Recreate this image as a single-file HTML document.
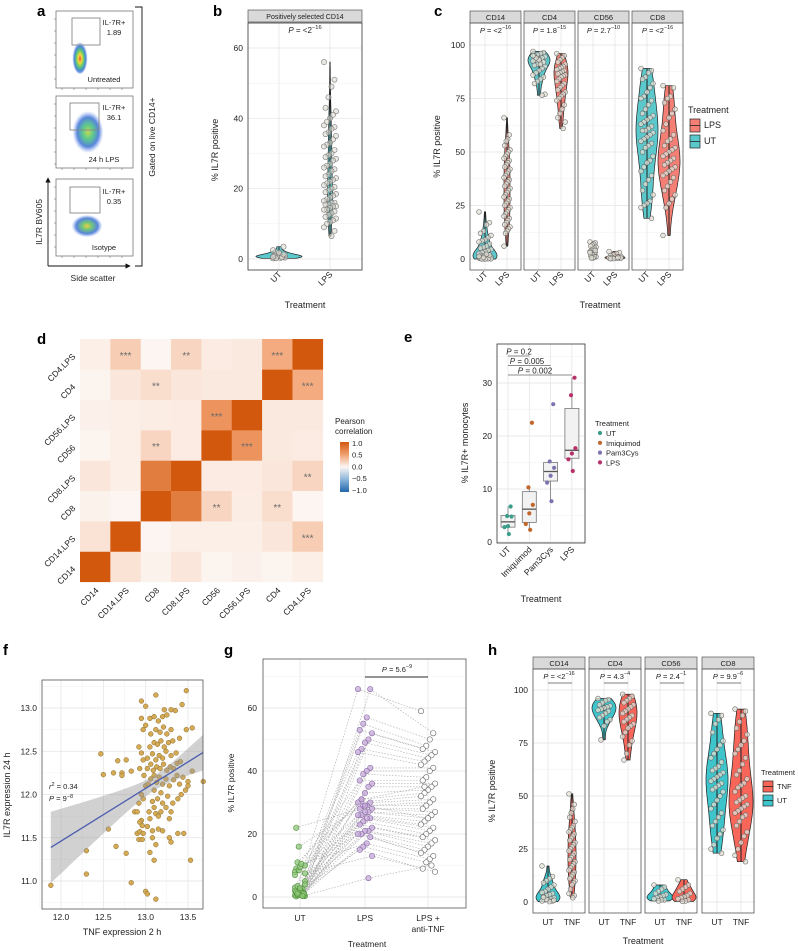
<!DOCTYPE html>
<html><head><meta charset="utf-8">
<style>
html,body{margin:0;padding:0;background:#fff;}
svg{display:block;font-family:"Liberation Sans",Arial,sans-serif;}
</style></head>
<body>
<svg id="fig" width="798" height="951" viewBox="0 0 798 951" xmlns="http://www.w3.org/2000/svg">
<defs>
<radialGradient id="flowA" cx="50%" cy="55%" r="50%">
<stop offset="0" stop-color="#e8321c"/><stop offset="0.25" stop-color="#f5d21a"/><stop offset="0.5" stop-color="#3fbf5a"/><stop offset="0.75" stop-color="#2a6fd6"/><stop offset="1" stop-color="#5a7fe0" stop-opacity="0"/>
</radialGradient>
<radialGradient id="flowB" cx="50%" cy="50%" r="50%">
<stop offset="0" stop-color="#b8d23a"/><stop offset="0.35" stop-color="#3fbf7a"/><stop offset="0.7" stop-color="#3a6fd6"/><stop offset="1" stop-color="#6a8fe8" stop-opacity="0"/>
</radialGradient>
<radialGradient id="flowC" cx="50%" cy="50%" r="50%">
<stop offset="0" stop-color="#f0c020"/><stop offset="0.3" stop-color="#5cc060"/><stop offset="0.7" stop-color="#3a6fd6"/><stop offset="1" stop-color="#6a8fe8" stop-opacity="0"/>
</radialGradient>
<linearGradient id="corrGrad" x1="0" y1="0" x2="0" y2="1">
<stop offset="0" stop-color="#d2580e"/><stop offset="0.25" stop-color="#f0a070"/><stop offset="0.5" stop-color="#fbf6f3"/><stop offset="0.75" stop-color="#8cb6da"/><stop offset="1" stop-color="#2166ac"/>
</linearGradient>
<marker id="arr" markerWidth="6" markerHeight="6" refX="3" refY="3" orient="auto"><path d="M0,0 L6,3 L0,6 z" fill="#111"/></marker>
</defs>
<rect width="798" height="951" fill="#fff"/>
</svg>
<script>
// ---------- DATA ----------
// panel b
const bCats = ["UT","LPS"];
const bUT = [0.2,0.5,0.8,1,1.2,0.4,0.6,1.5,2,2.5,3.5,0.3,0.7,0.9,1.1,0.5,1.8,0.2,0.6,1.3];
const bLPS = [56,51,49,46,43,42,41,40,39,38,37.5,37,36,35.5,35,34,33,32.5,32,31,30,29.5,29,28.5,28,27,26.5,26,25.5,25,24,23.5,23,22.5,22,21.5,21,20.5,20,19.5,19,18.5,18,17.5,17,16.5,16,16,15.5,15.5,15,15,14.5,14,14,13.5,13,12.5,12,11.5,11,10.5,10,9,8,6.5];
const bTicks = [0,20,40,60];
// panel c
const cFacets = ["CD14","CD4","CD56","CD8"];
const cPbase = ["P = <2","P = 1.8","P = 2.7","P = <2"];
const cPexp = ["−16","−15","−10","−16"];
const cCD14UT = [22,17,16,13,12,11,10,9,8.5,8,7,6,5.5,5,4.5,4,3.5,3,2.5,2,2,1.5,1.5,1,1,1,0.8,0.5,0.5,0.3,0.2,0.2,0.1,0.1,0,0,1.2,1.8,2.2,0.7];
const cCD14LPS = [66,58,56,55,53,51,50,49,48,47,46,45,44,43,42,41,40,39,38,37,36,35,34,33,32,31,30,29,28,27,26,25,24,23,22,21,20,19,18,17,16,15,14,13,12,6];
const cCD4UT = [97,96.5,96,95.5,95,94.5,94,93.5,93,92.5,92,91.5,91,90.5,90,89,88,87,86,85,84,83,82,77,76.5,93,94,95,92,91];
const cCD4LPS = [96,95,94,93,92,91,90,89.5,89,88.5,88,87.5,87,86.5,86,85.5,85,84,83,82,81,80,79,78,77,76,75,74,72,70,68,66,64,61];
const cCD56UT = [8,7.5,7,6.5,6,5.5,5,4.5,4,3.5,3,2.5,2,1.5,1,1,0.5,0.5,3,4];
const cCD56LPS = [3.5,3,2.5,2,1.5,1.2,1,0.8,0.6,0.5,0.4,0.3,0.2,0.1,0.5,0.7];
const cCD8UT = [89,88,87,85,84,82,80,78,76,75,74,72,70,68,67,66,65,64,63,62,61,60,60,59,58,57,56,55,54,53,52,50,48,46,45,43,41,39,37,35,32,30,27,26,25,24,19];
const cCD8LPS = [81,80,76,75,73,70,68,66,63,60,58,56,55,53,52,51,50,49,48,47,46,45,44,43,42,41,40,39,38,36,34,32,30,28,26,24,11];
const cTicks = [0,25,50,75,100];
// panel d
const dVars = ["CD14","CD14.LPS","CD8","CD8.LPS","CD56","CD56.LPS","CD4","CD4.LPS"];
const dCorr = [
 [1,0.12,0.03,0.10,0.02,0.04,0.02,0.05],
 [0.12,1,0.01,0.05,0.05,0.05,0.10,0.25],
 [0.03,0.01,1,0.75,0.20,0.06,0.15,0.01],
 [0.10,0.05,0.75,1,0.07,0.07,0.10,0.20],
 [0.02,0.05,0.20,0.07,1,0.60,0.08,0.07],
 [0.04,0.05,0.06,0.07,0.60,1,0.08,0.08],
 [0.02,0.10,0.15,0.10,0.08,0.08,1,0.45],
 [0.05,0.25,0.01,0.20,0.07,0.08,0.45,1]];
const dStars = [
 ["","","","","","","",""],
 ["","","","","","","","***"],
 ["","","","","**","","**",""],
 ["","","","","","","","**"],
 ["","","**","","","***","",""],
 ["","","","","***","","",""],
 ["","","**","","","","","***"],
 ["","***","","**","","","***",""]];
const dLegTicks = ["1.0","0.5","0.0","−0.5","−1.0"];
// panel e
const eCats = ["UT","Imiquimod","Pam3Cys","LPS"];
const eColors = ["#3a9e8a","#c0662a","#7f72b0","#b8306a"];
const ePts = [[6.7,4.9,4.8,3.0,2.8,1.5],[22.5,10.3,7.0,5.4,3.4,2.3],[26,15.2,14,12.5,11.2,7.7],[31,27.7,17.7,16.7,15.6,13.4]];
const eQ1 = [2.8,3.7,11.5,15.8];
const eMed = [3.8,6.2,13.3,17.3];
const eQ3 = [5.0,9.5,15.0,25.2];
const eLo = [1.5,2.3,7.7,13.4];
const eHi = [6.7,10.3,15.2,31];
const eTicks = [0,10,20,30];
const eP = ["0.2","0.005","0.002"];
const ePairEnd = [1,2,3];
// panel f
const fx = [12.92,12.95,12.97,12.93,12.98,13.0,12.95,12.97,12.92,12.95,12.93,12.96,12.9,12.93,12.97,12.92,12.96,13.02,13.05,13.08,13.04,13.1,13.12,13.15,13.18,13.08,13.14,13.2,13.24,13.28,13.3,13.32,13.26,13.18,13.1,13.03,13.06,13.1,13.13,13.16,13.2,13.24,13.28,13.33,13.37,13.4,13.44,13.47,13.02,13.06,13.09,13.13,13.17,13.21,13.25,13.29,13.33,13.37,13.41,13.02,13.08,13.12,13.16,13.2,13.24,13.3,13.36,13.05,13.1,13.14,13.18,13.22,13.27,13.32,13.4,13.06,13.12,13.17,13.21,13.25,13.3,13.48,13.55,13.05,13.1,13.15,13.2,13.25,13.3,13.35,13.22,13.0,12.97,12.95,13.28,13.3,13.2,13.12,13.15,13.08,13.38,13.42,13.38,
 11.88,12.3,12.3,12.47,12.5,12.56,12.62,12.65,12.67,12.72,12.72,12.77,12.77,12.83,12.83,12.87,12.9,13.0,13.02,13.12,13.05,13.1,13.53,13.68,13.55,13.48,13.12,12.95,13.43,13.0,13.5,13.5,13.45];
const fy = [12.55,12.48,12.4,12.3,12.22,12.1,12.0,11.95,11.9,11.7,11.68,11.64,11.55,11.57,11.55,11.48,11.48,11.63,11.72,11.58,11.8,11.85,11.78,11.75,11.8,11.92,11.95,11.9,11.85,11.72,11.8,11.9,11.98,12.02,12.05,12.12,12.18,12.22,12.14,12.2,12.12,12.18,12.1,12.17,12.22,12.12,12.2,12.05,12.3,12.35,12.28,12.32,12.3,12.35,12.28,12.32,12.3,12.36,12.38,12.42,12.47,12.4,12.45,12.42,12.5,12.45,12.48,12.55,12.6,12.58,12.62,12.55,12.6,12.62,12.65,12.7,12.75,12.72,12.78,12.7,12.75,12.75,12.77,12.88,12.9,12.85,12.9,12.92,12.98,12.97,12.98,12.8,12.75,12.88,11.5,11.45,11.58,11.42,11.6,11.5,11.95,12.0,11.55,
 10.95,11.35,11.08,12.47,12.23,11.6,12.25,11.4,12.39,12.25,12.22,12.4,11.32,10.98,12.27,11.8,11.8,10.88,10.85,10.79,11.33,11.24,11.24,12.15,12.27,13.2,13.15,13.08,13.04,13.02,12.1,12.15,11.55];
const fXTicks = [12.0,12.5,13.0,13.5];
const fYTicks = [11.0,11.5,12.0,12.5,13.0];
// panel g
const gCats = ["UT","LPS","LPS + anti-TNF"];
const gUT = [0.5,1,2,0.8,1.5,0.3,2.5,1,0.5,3,1.2,0.6,2,9,10,0.7,1.5,11,8,0.4,1.8,16,22,5,0.9,2.2,3.5,7,1,0.5,8.5,0.2,4,1.3,9.5,0.6,2,1,10.5,0.8,1.6,7.5,0.3,2.8,1.1];
const gLPS = [66,66,57,55,53,52,50,49,47,46,41,40,39,37,36,35,33,31,30,30,29,29,28,28,27,27,26,26,25,25,24,23,22,21,21,20,20,19,17,16,15,13,6,29,31];
const gTNF = [59,52,50,48,47,46,45,44,43,42,41,40,38,37,36,35,34,33,32,31,30,29,28,27,26,25,24,23,22,21,20,19,18,17,16,15,14,13,12,11,9,8,10,25,35];
const gTicks = [0,20,40,60];
// panel h
const hFacets = ["CD14","CD4","CD56","CD8"];
const hPbase = ["P = <2","P = 4.3","P = 2.4","P = 9.9"];
const hPexp = ["−16","−4","−1","−6"];
const hCD14UT = [17,12,11,10,9,8,7,6,5,4.5,4,3.5,3,2.5,2,1.5,1,1,0.5,0.5,0.2,1.2,2.2,0.8];
const hCD14TNF = [51,46,44,42,40,38,36,35,34,33,32,31,30,29,28,27,26,25,24,23,22,21,20,19,18,17,16,15,14,13,12,11,10,9,8,6,4,3,2];
const hCD4UT = [96,95.5,95,94,93,92.5,92,91.5,91,90.5,90,89,88,87,86,85,83,76.5];
const hCD4TNF = [98,97,96,95,94,93,92,91,90,89,88,87,86,85,84,83,82,80,78,76,74,70,67];
const hCD56UT = [8,7,6,5,4,3.5,3,2.5,2,1.5,1,1,0.5];
const hCD56TNF = [10.5,8,7,6,5,4,3,2.5,2,1.5,1,0.5,0.3];
const hCD8UT = [89,88,86,84,80,76,74,72,70,68,66,64,63,62,61,60,59,58,57,56,55,54,53,52,50,48,46,44,42,40,38,36,34,32,30,27,25,23];
const hCD8TNF = [91,90,88,85,82,79,76,74,72,70,68,65,62,60,58,56,55,54,52,50,49,48,47,46,45,44,43,42,41,40,38,36,33,31,28,25,22,19];

// ---------- HELPERS ----------
const NS = "http://www.w3.org/2000/svg";
const svg = document.getElementById('fig');
function mk(tag, attrs, parent){
  const e = document.createElementNS(NS, tag);
  for (const k in attrs) e.setAttribute(k, attrs[k]);
  (parent||svg).appendChild(e);
  return e;
}
function txt(x,y,s,size,parent,extra){
  const a = Object.assign({x:x,y:y,'font-size':size,fill:'#222'}, extra||{});
  const t = mk('text', a, parent); t.textContent = s; return t;
}
function lin(d0,d1,r0,r1){ return v => r0 + (v-d0)/(d1-d0)*(r1-r0); }
function grp(name){
  const g = mk('g', {});
  
  
  return g;
}
function pText(x,y,base,exp,parent,size){
  size = size||8;
  const t = mk('text',{x:x,y:y,'font-size':size,'text-anchor':'middle',fill:'#222'},parent);
  const p = mk('tspan',{'font-style':'italic'},t); p.textContent = base.slice(0,1);
  const r = mk('tspan',{},t); r.textContent = base.slice(1);
  if (exp){ const s = mk('tspan',{dy:-4,'font-size':size*0.72},t); s.textContent = exp; }
  return t;
}
function violinPath(vals, cx, ys, halfW){
  const n = vals.length;
  const mean = vals.reduce((a,b)=>a+b,0)/n;
  const sd = Math.sqrt(vals.reduce((a,b)=>a+(b-mean)*(b-mean),0)/Math.max(n-1,1));
  const h = Math.max(1.06*sd*Math.pow(n,-0.2), 0.3);
  const mn = Math.min(...vals), mx = Math.max(...vals);
  const N = 50, pts = [];
  let maxd = 0;
  for (let i=0;i<=N;i++){
    const y = mn + (mx-mn)*i/N;
    let d = 0; for (const v of vals) d += Math.exp(-0.5*((y-v)/h)**2);
    pts.push([y,d]); if (d>maxd) maxd = d;
  }
  let p = '';
  pts.forEach((q,i)=>{ p += (i?'L':'M') + (cx + q[1]/maxd*halfW).toFixed(1) + ',' + ys(q[0]).toFixed(1); });
  for (let i=pts.length-1;i>=0;i--) p += 'L' + (cx - pts[i][1]/maxd*halfW).toFixed(1) + ',' + ys(pts[i][0]).toFixed(1);
  return p + 'Z';
}
function jit(i, w){ return (((i*7)%9)-4)/4*w; }

// ---------- PANEL A (flow) ----------
(function(){
  const g = grp('panel-a');
  txt(37,16,'a',15,g,{'font-weight':'bold',fill:'#000'});
  const boxes = [
    {y0:11,y1:88,name:'untreated-flow-plot',blob:[80,57,5.5,12,'flowA'],gate:[72,18,28,27],lbl:'1.89',cond:'Untreated'},
    {y0:96,y1:168,name:'lps-flow-plot',blob:[88,132,11,15,'flowB'],gate:[70,103,29,27],lbl:'36.1',cond:'24 h LPS'},
    {y0:179,y1:256,name:'isotype-flow-plot',blob:[87,226,11,8,'flowC'],gate:[70,187,30,26],lbl:'0.35',cond:'Isotype'}];
  boxes.forEach(b=>{
    const bg = mk('g',{},g);
    
    
    mk('rect',{x:56,y:b.y0,width:77,height:b.y1-b.y0,fill:'#fff',stroke:'#777','stroke-width':0.8},bg);
    mk('ellipse',{cx:b.blob[0],cy:b.blob[1],rx:b.blob[2]*1.4,ry:b.blob[3]*1.4,fill:'url(#'+b.blob[4]+')',opacity:0.85},bg);
    for (let k=0;k<6;k++){ mk('line',{x1:56,x2:54,y1:b.y0+8+k*12,y2:b.y0+8+k*12,stroke:'#777','stroke-width':0.6},bg);
      mk('line',{x1:62+k*12,x2:62+k*12,y1:b.y1,y2:b.y1+2,stroke:'#777','stroke-width':0.6},bg); }
    mk('rect',{x:b.gate[0],y:b.gate[1],width:b.gate[2],height:b.gate[3],fill:'none',stroke:'#888','stroke-width':0.9},bg);
    txt(114,b.gate[1]+7,'IL-7R+',7.5,bg,{'text-anchor':'middle'});
    txt(114,b.gate[1]+17,b.lbl,7.5,bg,{'text-anchor':'middle'});
    txt(104,b.y1-6,b.cond,7.5,bg,{'text-anchor':'middle'});
  });
  mk('line',{x1:48,y1:266,x2:48,y2:180,stroke:'#111','stroke-width':0.9,'marker-end':'url(#arr)'},g);
  mk('line',{x1:48,y1:266,x2:128,y2:266,stroke:'#111','stroke-width':0.9,'marker-end':'url(#arr)'},g);
  txt(42,222,'IL7R BV605',8.5,g,{'text-anchor':'middle',transform:'rotate(-90 42 222)'});
  txt(93,281,'Side scatter',8.5,g,{'text-anchor':'middle'});
  mk('path',{d:'M135,7 H142 V266 H135',fill:'none',stroke:'#111','stroke-width':0.9},g);
  txt(155,137,'Gated on live CD14+',8.5,g,{'text-anchor':'middle',transform:'rotate(-90 155 137)'});
})();

// ---------- PANEL B ----------
(function(){
  const g = grp('panel-b');
  txt(213,16,'b',15,g,{'font-weight':'bold',fill:'#000'});
  const L=248,R=362,T=23,B=270;
  const ys = lin(0,60,259,48);
  const xs = {UT:279, LPS:330};
  const strip = mk('rect',{x:L,y:10,width:R-L,height:12,fill:'#d9d9d9',stroke:'#555','stroke-width':0.7},g);
  
  txt((L+R)/2,19,'Positively selected CD14',7,g,{'text-anchor':'middle'});
  for (let v=10; v<=60; v+=20) mk('line',{x1:L,x2:R,y1:ys(v),y2:ys(v),stroke:'#f2f2f2','stroke-width':0.6},g);
  bTicks.forEach(v=>{ mk('line',{x1:L,x2:R,y1:ys(v),y2:ys(v),stroke:'#e3e3e3','stroke-width':0.7},g);
    const t = txt(243,ys(v)+3,String(v),8.5,g,{'text-anchor':'end'});
     });
  bCats.forEach(c=>mk('line',{x1:xs[c],x2:xs[c],y1:T,y2:B,stroke:'#e3e3e3','stroke-width':0.7},g));
  const vals = {UT:bUT, LPS:bLPS}, wid = {UT:23, LPS:2.5};
  bCats.forEach(c=>{
    const v = mk('path',{d:violinPath(vals[c],xs[c],ys,wid[c]),fill:'#5bc8cc',stroke:'#222','stroke-width':0.7},g);
    
    mk('line',{x1:xs[c],x2:xs[c],y1:ys(Math.min(...vals[c])),y2:ys(Math.max(...vals[c])),stroke:'#222','stroke-width':1},g);
    vals[c].forEach((y,i)=>{
      const p = mk('circle',{cx:xs[c]+jit(i,c==='UT'?6:6),cy:ys(y),r:2.6,fill:'#dedbd0','fill-opacity':0.6,stroke:'#777','stroke-width':0.6},g);
      
    });
    txt(xs[c]+3,275,c,8.5,g,{'text-anchor':'end',transform:'rotate(-45 '+(xs[c]+3)+' 275)'});
  });
  mk('rect',{x:L,y:T,width:R-L,height:B-T,fill:'none',stroke:'#333','stroke-width':0.8},g);
  pText(305,33,'P = <2','−16',g,8);
  txt(218,150,'% IL7R positive',9,g,{'text-anchor':'middle',transform:'rotate(-90 218 150)'});
  txt(305,308,'Treatment',9,g,{'text-anchor':'middle'});
})();

// ---------- facet violin helper (panels c & h) ----------
function facetPanel(o){
  const g = grp(o.name);
  txt(o.letterX,o.letterY,o.letter,15,g,{'font-weight':'bold',fill:'#000'});
  o.facets.forEach((f,fi)=>{
    const x0 = o.fx[fi], x1 = x0 + o.fw;
    const fg = mk('g',{},g);
    
    
    mk('rect',{x:x0,y:o.stripT,width:o.fw,height:o.T-o.stripT,fill:'#d9d9d9',stroke:'#555','stroke-width':0.7},fg);
    txt(x0+o.fw/2,o.stripT+9,f,7.5,fg,{'text-anchor':'middle'});
    for (let v=12.5; v<=100; v+=25) mk('line',{x1:x0,x2:x1,y1:o.ys(v),y2:o.ys(v),stroke:'#f2f2f2','stroke-width':0.6},fg);
    o.ticks.forEach(v=>mk('line',{x1:x0,x2:x1,y1:o.ys(v),y2:o.ys(v),stroke:'#e3e3e3','stroke-width':0.7},fg));
    o.cats.forEach((c,ci)=>{
      const cx = x0 + o.off[ci];
      mk('line',{x1:cx,x2:cx,y1:o.T,y2:o.B,stroke:'#e3e3e3','stroke-width':0.7},fg);
      const vals = o.data[fi][ci];
      const v = mk('path',{d:violinPath(vals,cx,o.ys,o.widths[fi][ci]),fill:o.colors[ci],stroke:'#222','stroke-width':0.7},fg);
      
      mk('line',{x1:cx,x2:cx,y1:o.ys(Math.min(...vals)),y2:o.ys(Math.max(...vals)),stroke:'#222','stroke-width':1},fg);
      vals.forEach((y,i)=>{
        const p = mk('circle',{cx:cx+jit(i,Math.max(Math.min(o.widths[fi][ci]*0.6,6),3)),cy:o.ys(y),r:2.4,fill:'#e2dfd4','fill-opacity':0.75,stroke:'#666','stroke-width':0.55},fg);
        
      });
      if (o.rot) txt(cx+3,o.B+5,c,8.5,fg,{'text-anchor':'end',transform:'rotate(-45 '+(cx+3)+' '+(o.B+5)+')'});
      else txt(cx,o.B+12,c,8.5,fg,{'text-anchor':'middle'});
    });
    mk('rect',{x:x0,y:o.T,width:o.fw,height:o.B-o.T,fill:'none',stroke:'#555','stroke-width':0.8},fg);
    pText(x0+o.fw/2,o.T+10,o.pb[fi],o.pe[fi],fg,7.5);
    if (o.bracket) mk('line',{x1:x0+o.off[0],x2:x0+o.off[1],y1:o.T+14,y2:o.T+14,stroke:'#555','stroke-width':0.8},fg);
  });
  o.ticks.forEach(v=>txt(o.fx[0]-5,o.ys(v)+3,String(v),8.5,g,{'text-anchor':'end'}));
  txt(o.ytX,(o.T+o.B)/2,'% IL7R positive',9,g,{'text-anchor':'middle',transform:'rotate(-90 '+o.ytX+' '+(o.T+o.B)/2+')'});
  txt(o.xtX,o.xtY,'Treatment',9,g,{'text-anchor':'middle'});
  const lg = mk('g',{},g);
  
  
  txt(o.legX,o.legY,'Treatment',o.legFs,lg);
  o.legItems.forEach((it,i)=>{
    const y = o.legY + 6 + i*o.legStep;
    const e = mk('g',{},lg);
    
    
    mk('rect',{x:o.legX+2,y:y,width:10,height:o.legStep-3,fill:it[1],stroke:'#222','stroke-width':0.7},e);
    mk('line',{x1:o.legX+2,x2:o.legX+12,y1:y+(o.legStep-3)/2,y2:y+(o.legStep-3)/2,stroke:'#222','stroke-width':0.8},e);
    txt(o.legX+16,y+o.legStep/2+1,it[0],o.legFs,e);
  });
}
facetPanel({name:'panel-c',letter:'c',letterX:434,letterY:16,facets:cFacets,fx:[470,524,578,632],fw:51,
  stripT:11,T:23,B:270,ys:lin(0,100,259,45),ticks:cTicks,cats:['UT','LPS'],off:[15,37],
  data:[[cCD14UT,cCD14LPS],[cCD4UT,cCD4LPS],[cCD56UT,cCD56LPS],[cCD8UT,cCD8LPS]],
  widths:[[12,3],[11,7],[3,10],[11,11]],colors:['#5bc8cc','#f57f74'],pb:cPbase,pe:cPexp,bracket:false,rot:true,
  ytX:440,xtX:600,xtY:308,legX:688,legY:113,legFs:9,legStep:16,legItems:[['LPS','#f57f74'],['UT','#5bc8cc']]});
facetPanel({name:'panel-h',letter:'h',letterX:488,letterY:655,facets:hFacets,fx:[533,589,645,702],fw:52,
  stripT:657,T:669,B:913,ys:lin(0,100,902,690),ticks:cTicks,cats:['UT','TNF'],off:[15,39],
  data:[[hCD14UT,hCD14TNF],[hCD4UT,hCD4TNF],[hCD56UT,hCD56TNF],[hCD8UT,hCD8TNF]],
  widths:[[12,4],[12,9],[13,12],[11,12]],colors:['#3ec5cc','#f8665a'],pb:hPbase,pe:hPexp,bracket:true,rot:false,
  ytX:495,xtX:643,xtY:944,legX:761,legY:775,legFs:7.5,legStep:14,legItems:[['TNF','#f8665a'],['UT','#3ec5cc']]});

// ---------- PANEL D (heatmap) ----------
(function(){
  const g = grp('panel-d');
  txt(37,344,'d',15,g,{'font-weight':'bold',fill:'#000'});
  const x0=80, y0=339, cs=30.35, n=dVars.length;
  const cx = i => x0 + (i+0.5)*cs;
  const cy = j => y0 + (n-1-j+0.5)*cs;
  function col(v){
    if (v>=0){
      const a=[252,247,244], m=[242,162,114], b=[210,88,14];
      const t = v<0.5 ? v/0.5 : (v-0.5)/0.5, s = v<0.5 ? a : m, e = v<0.5 ? m : b;
      return 'rgb('+s.map((c,k)=>Math.round(c+(e[k]-c)*t)).join(',')+')';
    }
    const t=-v; const a=[252,247,244], b=[33,102,172];
    return 'rgb('+a.map((c,k)=>Math.round(c+(b[k]-c)*t)).join(',')+')';
  }
  for (let j=0;j<n;j++) for (let i=0;i<n;i++){
    const r = mk('rect',{x:cx(i)-cs/2,y:cy(j)-cs/2,width:cs+0.3,height:cs+0.3,fill:col(dCorr[j][i])},g);
    
    
    if (dStars[j][i]) txt(cx(i),cy(j)+5,dStars[j][i],10,g,{'text-anchor':'middle',fill:'#6b6b6b'});
  }
  dVars.forEach((v,i)=>{
    txt(x0-4,cy(i)+3,v,8.5,g,{'text-anchor':'end',transform:'rotate(-45 '+(x0-4)+' '+(cy(i)+3)+')'});
    txt(cx(i)+4,591,v,8.5,g,{'text-anchor':'end',transform:'rotate(-45 '+(cx(i)+4)+' 591)'});
  });
  const lg = mk('g',{},g);
  
  
  txt(335,424,'Pearson',8,lg); txt(335,434,'correlation',8,lg);
  mk('rect',{x:340,y:442,width:9,height:50,fill:'url(#corrGrad)'},lg);
  dLegTicks.forEach((t,k)=>txt(352,446+k*11.7,t,7.5,lg));
})();

// ---------- PANEL E ----------
(function(){
  const g = grp('panel-e');
  txt(404,342,'e',15,g,{'font-weight':'bold',fill:'#000'});
  const L=497,R=585,T=344,B=543;
  const ys = lin(0,30,542,383);
  const xs = i => 508 + i*21.3;
  for (let v=5; v<=35; v+=10) mk('line',{x1:L,x2:R,y1:ys(v),y2:ys(v),stroke:'#f2f2f2','stroke-width':0.6},g);
  eTicks.forEach(v=>{ mk('line',{x1:L,x2:R,y1:ys(v),y2:ys(v),stroke:'#e3e3e3','stroke-width':0.7},g);
    txt(492,ys(v)+3,String(v),8.5,g,{'text-anchor':'end'}); });
  eCats.forEach((c,i)=>{
    mk('line',{x1:xs(i),x2:xs(i),y1:T,y2:B,stroke:'#e3e3e3','stroke-width':0.7},g);
    const bx = mk('g',{},g);
    
    
    mk('line',{x1:xs(i),x2:xs(i),y1:ys(eLo[i]),y2:ys(eHi[i]),stroke:'#777','stroke-width':0.8},bx);
    mk('rect',{x:xs(i)-7,y:ys(eQ3[i]),width:14,height:ys(eQ1[i])-ys(eQ3[i]),fill:'#f2f2f2',stroke:'#777','stroke-width':0.8},bx);
    mk('line',{x1:xs(i)-7,x2:xs(i)+7,y1:ys(eMed[i]),y2:ys(eMed[i]),stroke:'#555','stroke-width':1.3},bx);
    ePts[i].forEach((v,k)=>{
      const p = mk('circle',{cx:xs(i)+jit(k*2+1,3.5),cy:ys(v),r:2.1,fill:eColors[i]},g);
      
    });
    txt(xs(i)+3,550,c,8.5,g,{'text-anchor':'end',transform:'rotate(-45 '+(xs(i)+3)+' 550)'});
  });
  mk('rect',{x:L,y:T,width:R-L,height:B-T,fill:'none',stroke:'#333','stroke-width':0.8},g);
  eP.forEach((p,k)=>{
    const yy = 356 + k*9.5;
    mk('line',{x1:xs(0),x2:xs(ePairEnd[k]),y1:yy,y2:yy,stroke:'#666','stroke-width':0.8},g);
    pText(xs(0)+11+k*8,yy-1.5,'P = '+p,'',g,8);
  });
  txt(468,443,'% IL7R+ monocytes',9,g,{'text-anchor':'middle',transform:'rotate(-90 468 443)'});
  txt(541,602,'Treatment',9,g,{'text-anchor':'middle'});
  const lg = mk('g',{},g);
  
  
  txt(595,426,'Treatment',7.5,lg);
  eCats.forEach((c,i)=>{ mk('circle',{cx:600,cy:433+i*9.8,r:2.1,fill:eColors[i]},lg); txt(606,436+i*9.8,c,7.5,lg); });
})();

// ---------- PANEL F ----------
(function(){
  const g = grp('panel-f');
  txt(3,655,'f',15,g,{'font-weight':'bold',fill:'#000'});
  const L=42,R=203,T=680,B=909;
  const xs = lin(12.0,13.5,61,188), ys = lin(11.0,13.0,881,708);
  [11.75,12.25,12.75,13.25].forEach(v=>mk('line',{x1:xs(v),x2:xs(v),y1:T,y2:B,stroke:'#f2f2f2','stroke-width':0.6},g));
  [10.75,11.25,11.75,12.25,12.75,13.25].forEach(v=>mk('line',{x1:L,x2:R,y1:ys(v),y2:ys(v),stroke:'#f2f2f2','stroke-width':0.6},g));
  fXTicks.forEach(v=>{ mk('line',{x1:xs(v),x2:xs(v),y1:T,y2:B,stroke:'#e3e3e3','stroke-width':0.7},g);
    txt(xs(v),920,v.toFixed(1),8.5,g,{'text-anchor':'middle'}); });
  fYTicks.forEach(v=>{ mk('line',{x1:L,x2:R,y1:ys(v),y2:ys(v),stroke:'#e3e3e3','stroke-width':0.7},g);
    txt(37,ys(v)+3,v.toFixed(1),8.5,g,{'text-anchor':'end'}); });
  fx.forEach((x,i)=>{
    const p = mk('circle',{cx:xs(x),cy:ys(fy[i]),r:2.4,fill:'#d4aa55',stroke:'#8a6a2a','stroke-width':0.5},g);
    
  });
  const n = fx.length, mx = fx.reduce((a,b)=>a+b,0)/n, my = fy.reduce((a,b)=>a+b,0)/n;
  let sxx=0,sxy=0; fx.forEach((x,i)=>{ sxx+=(x-mx)**2; sxy+=(x-mx)*(fy[i]-my); });
  const b1 = sxy/sxx, b0 = my - b1*mx;
  let sse=0; fx.forEach((x,i)=>{ sse+=(fy[i]-b0-b1*x)**2; });
  const s = Math.sqrt(sse/(n-2));
  const xa = Math.min(...fx), xb = Math.max(...fx);
  let up='', lo='';
  for (let k=0;k<=30;k++){
    const x = xa + (xb-xa)*k/30, yh = b0+b1*x, se = 1.97*s*Math.sqrt(1/n + (x-mx)**2/sxx);
    up += (k?'L':'M') + xs(x).toFixed(1)+','+ys(yh+se).toFixed(1);
    lo = 'L' + xs(x).toFixed(1)+','+ys(yh-se).toFixed(1) + lo;
  }
  const band = mk('path',{d:up+lo+'Z',fill:'#999','fill-opacity':0.45},g);
  
  const ln = mk('line',{x1:xs(xa),y1:ys(b0+b1*xa),x2:xs(xb),y2:ys(b0+b1*xb),stroke:'#4a5cb0','stroke-width':1.3},g);
  
  mk('rect',{x:L,y:T,width:R-L,height:B-T,fill:'none',stroke:'#555','stroke-width':0.8},g);
  const t1 = mk('text',{x:49,y:789,'font-size':7.5,fill:'#222'},g);
  const a1 = mk('tspan',{'font-style':'italic'},t1); a1.textContent='r';
  const a2 = mk('tspan',{dy:-3,'font-size':5.5},t1); a2.textContent='2';
  const a3 = mk('tspan',{dy:3},t1); a3.textContent=' = 0.34';
  const t2 = mk('text',{x:49,y:801,'font-size':7.5,fill:'#222'},g);
  const c1 = mk('tspan',{'font-style':'italic'},t2); c1.textContent='P';
  const c2 = mk('tspan',{},t2); c2.textContent=' = 9';
  const c3 = mk('tspan',{dy:-3,'font-size':5.5},t2); c3.textContent='−8';
  txt(10,795,'IL7R expression 24 h',9,g,{'text-anchor':'middle',transform:'rotate(-90 10 795)'});
  txt(122,935,'TNF expression 2 h',9,g,{'text-anchor':'middle'});
})();

// ---------- PANEL G ----------
(function(){
  const g = grp('panel-g');
  txt(224,655,'g',15,g,{'font-weight':'bold',fill:'#000'});
  const L=263,R=466,T=659,B=908;
  const ys = lin(0,60,897,708);
  const xs = [300,365,428];
  [10,30,50,70].forEach(v=>{ if (ys(v)>T) mk('line',{x1:L,x2:R,y1:ys(v),y2:ys(v),stroke:'#f2f2f2','stroke-width':0.6},g); });
  gTicks.forEach(v=>{ mk('line',{x1:L,x2:R,y1:ys(v),y2:ys(v),stroke:'#e3e3e3','stroke-width':0.7},g);
    txt(257,ys(v)+3,String(v),8.5,g,{'text-anchor':'end'}); });
  xs.forEach(x=>mk('line',{x1:x,x2:x,y1:T,y2:B,stroke:'#e3e3e3','stroke-width':0.7},g));
  const series = [gUT,gLPS,gTNF];
  const jx = (s,i)=> xs[s] + jit(i, s===0?5:7);
  gUT.forEach((_,i)=>{
    const pl = mk('polyline',{points:[0,1,2].map(s=>jx(s,i).toFixed(1)+','+ys(series[s][i]).toFixed(1)).join(' '),fill:'none',stroke:'#aaa','stroke-width':0.6,'stroke-dasharray':'1.5,1.5'},g);
    
  });
  const fills = ['#8fc77a','#c6a8d8','#ffffff'], strokes=['#4f8f3a','#8a6aa8','#666'];
  series.forEach((arr,s)=>arr.forEach((v,i)=>{
    const p = mk('circle',{cx:jx(s,i),cy:ys(v),r:2.7,fill:fills[s],'fill-opacity':0.75,stroke:strokes[s],'stroke-width':0.6},g);
    
  }));
  mk('rect',{x:L,y:T,width:R-L,height:B-T,fill:'none',stroke:'#555','stroke-width':0.8},g);
  mk('line',{x1:xs[1],x2:xs[2],y1:677,y2:677,stroke:'#555','stroke-width':1.2},g);
  pText(397,672,'P = 5.6','−9',g,7.5);
  txt(xs[0],921,'UT',8.5,g,{'text-anchor':'middle'});
  txt(xs[1],921,'LPS',8.5,g,{'text-anchor':'middle'});
  txt(xs[2],921,'LPS +',8.5,g,{'text-anchor':'middle'});
  txt(xs[2],932,'anti-TNF',8.5,g,{'text-anchor':'middle'});
  txt(234,783,'% IL7R positive',8.5,g,{'text-anchor':'middle',transform:'rotate(-90 234 783)'});
  txt(367,947,'Treatment',8.5,g,{'text-anchor':'middle'});
})();
</script>
</body></html>
